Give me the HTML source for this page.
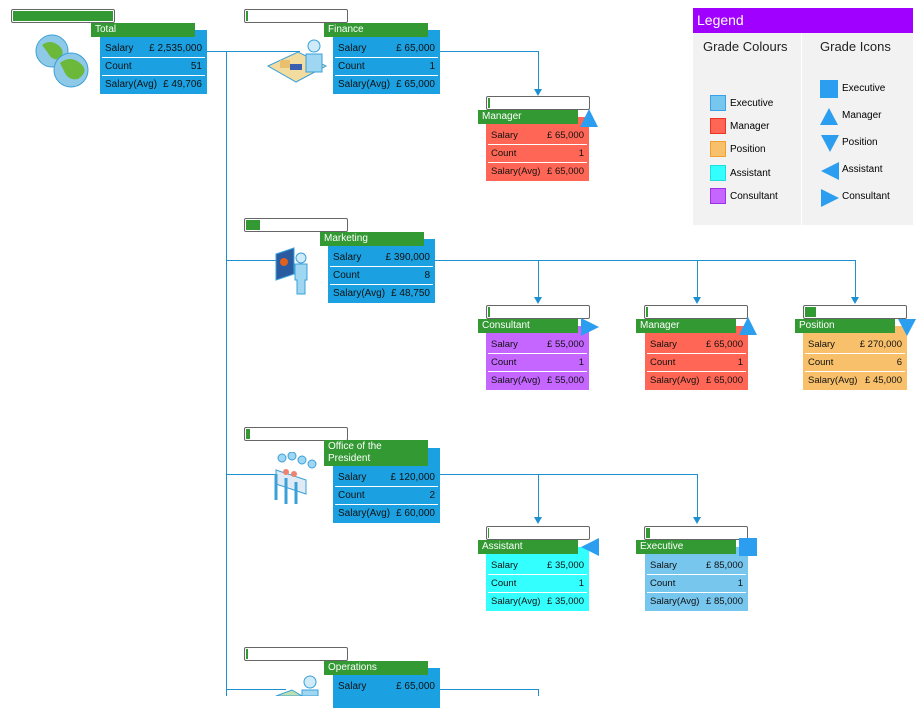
<!DOCTYPE html>
<html><head><meta charset="utf-8"><style>
body{margin:0;width:924px;height:696px;position:relative;overflow:hidden;background:#fff;font-family:"Liberation Sans",sans-serif;font-size:10px}
.a{position:absolute}
.bar{position:absolute;width:102px;height:12px;border:1px solid #666;border-radius:2px;background:#fff}
.bar i{position:absolute;left:1px;top:1px;height:10px;background:#339933}
.tt{position:absolute;z-index:2;background:#339933;color:#fff;padding:2px 4px;box-sizing:border-box;height:14px;width:104px;line-height:10px}
.box{position:absolute;height:64px;box-sizing:border-box;padding-top:10px;color:#111}
.box.c{font-size:9.5px}
.r{height:17px;line-height:17px;padding:0 3px;display:flex;justify-content:space-between;border-bottom:1px solid #fff;margin:0 2px}
.r:last-child{border-bottom:none}
.ln{position:absolute;background:#1e90d0}
.arr{position:absolute;width:0;height:0;border-left:4px solid transparent;border-right:4px solid transparent;border-top:7px solid #1e90d0}
</style></head><body>

<div class="ln" style="left:226px;top:51px;width:1px;height:645px"></div>
<div class="ln" style="left:207px;top:51px;width:93px;height:1px"></div>
<div class="ln" style="left:440px;top:51px;width:98px;height:1px"></div>
<div class="ln" style="left:538px;top:51px;width:1px;height:40px"></div><div class="arr" style="left:534px;top:89px"></div>
<div class="ln" style="left:226px;top:260px;width:50px;height:1px"></div>
<div class="ln" style="left:435px;top:260px;width:420px;height:1px"></div>
<div class="ln" style="left:538px;top:260px;width:1px;height:38px"></div><div class="arr" style="left:534px;top:297px"></div>
<div class="ln" style="left:697px;top:260px;width:1px;height:38px"></div><div class="arr" style="left:693px;top:297px"></div>
<div class="ln" style="left:855px;top:260px;width:1px;height:38px"></div><div class="arr" style="left:851px;top:297px"></div>
<div class="ln" style="left:226px;top:474px;width:50px;height:1px"></div>
<div class="ln" style="left:440px;top:474px;width:257px;height:1px"></div>
<div class="ln" style="left:538px;top:474px;width:1px;height:45px"></div><div class="arr" style="left:534px;top:517px"></div>
<div class="ln" style="left:697px;top:474px;width:1px;height:45px"></div><div class="arr" style="left:693px;top:517px"></div>
<div class="ln" style="left:226px;top:689px;width:60px;height:1px"></div>
<div class="ln" style="left:440px;top:689px;width:98px;height:1px"></div>
<div class="ln" style="left:538px;top:689px;width:1px;height:7px"></div>

<div class="bar" style="left:11px;top:9px"><i style="width:100px"></i></div>
<svg class="a" style="left:34px;top:33px" width="58" height="58"><circle cx="18" cy="18" r="16" fill="#8ec9e8" stroke="#3aa0d8"/><path d="M8 12q8-6 16 0t2 14q-8 2-12-6z" fill="#6cb83a"/><circle cx="37" cy="37" r="17" fill="#8ec9e8" stroke="#3aa0d8"/><path d="M26 30q10-8 20 0t-2 16q-10 2-14-8z" fill="#6cb83a"/></svg>
<div class="tt" style="left:91px;top:23px">Total</div>
<div class="box" style="left:100px;top:30px;width:107px;background:#1ba1e2"><div class="r"><span>Salary</span><span>£ 2,535,000</span></div><div class="r"><span>Count</span><span>51</span></div><div class="r"><span>Salary(Avg)</span><span>£ 49,706</span></div></div>

<div class="bar" style="left:244px;top:9px"><i style="width:2px"></i></div>
<svg class="a" style="left:266px;top:36px" width="62" height="54"><path d="M2 30l30-14 28 14-30 16z" fill="#f3dca0" stroke="#3aa0d8"/><circle cx="48" cy="10" r="6" fill="#cfeaf8" stroke="#3aa0d8"/><path d="M40 18h16v18h-16z" fill="#9fd6f2" stroke="#3aa0d8"/><rect x="14" y="24" width="10" height="8" fill="#e8c070"/><rect x="24" y="28" width="12" height="6" fill="#3a5fb0"/></svg>
<div class="tt" style="left:324px;top:23px">Finance</div>
<div class="box" style="left:333px;top:30px;width:107px;background:#1ba1e2"><div class="r"><span>Salary</span><span>£ 65,000</span></div><div class="r"><span>Count</span><span>1</span></div><div class="r"><span>Salary(Avg)</span><span>£ 65,000</span></div></div>

<div class="bar" style="left:486px;top:96px"><i style="width:2px"></i></div>
<div class="box c" style="left:486px;top:117px;width:103px;background:#ff6655"><div class="r"><span>Salary</span><span>£ 65,000</span></div><div class="r"><span>Count</span><span>1</span></div><div class="r"><span>Salary(Avg)</span><span>£ 65,000</span></div></div>
<div class="tt" style="left:478px;top:110px;width:100px">Manager</div>
<svg class="a" style="left:580px;top:108px" width="20" height="20"><path d="M9 1l9 18h-18z" fill="#2c9ef0"/></svg>

<div class="bar" style="left:244px;top:218px"><i style="width:14px"></i></div>
<svg class="a" style="left:274px;top:246px" width="34" height="50"><path d="M2 8l18-6v26l-18 6z" fill="#2a5aa0" stroke="#3aa0d8"/><circle cx="10" cy="16" r="4" fill="#e06020"/><circle cx="27" cy="12" r="5" fill="#cfeaf8" stroke="#3aa0d8"/><path d="M21 18h12v16h-2v14h-8v-14h-2z" fill="#9fd6f2" stroke="#3aa0d8"/></svg>
<div class="tt" style="left:320px;top:232px">Marketing</div>
<div class="box" style="left:328px;top:239px;width:107px;background:#1ba1e2"><div class="r"><span>Salary</span><span>£ 390,000</span></div><div class="r"><span>Count</span><span>8</span></div><div class="r"><span>Salary(Avg)</span><span>£ 48,750</span></div></div>

<div class="bar" style="left:486px;top:305px"><i style="width:2px"></i></div>
<div class="box c" style="left:486px;top:326px;width:103px;background:#c466ff"><div class="r"><span>Salary</span><span>£ 55,000</span></div><div class="r"><span>Count</span><span>1</span></div><div class="r"><span>Salary(Avg)</span><span>£ 55,000</span></div></div>
<div class="tt" style="left:478px;top:319px;width:100px">Consultant</div>
<svg class="a" style="left:580px;top:317px" width="20" height="20"><path d="M1 1l18 9-18 9z" fill="#2c9ef0"/></svg>

<div class="bar" style="left:644px;top:305px"><i style="width:2px"></i></div>
<div class="box c" style="left:645px;top:326px;width:103px;background:#ff6655"><div class="r"><span>Salary</span><span>£ 65,000</span></div><div class="r"><span>Count</span><span>1</span></div><div class="r"><span>Salary(Avg)</span><span>£ 65,000</span></div></div>
<div class="tt" style="left:636px;top:319px;width:100px">Manager</div>
<svg class="a" style="left:739px;top:316px" width="20" height="20"><path d="M9 1l9 18h-18z" fill="#2c9ef0"/></svg>

<div class="bar" style="left:803px;top:305px"><i style="width:11px"></i></div>
<div class="box c" style="left:803px;top:326px;width:104px;background:#f8c06a"><div class="r"><span>Salary</span><span>£ 270,000</span></div><div class="r"><span>Count</span><span>6</span></div><div class="r"><span>Salary(Avg)</span><span>£ 45,000</span></div></div>
<div class="tt" style="left:795px;top:319px;width:100px">Position</div>
<svg class="a" style="left:897px;top:318px" width="20" height="20"><path d="M1 1h18l-9 17z" fill="#2c9ef0"/></svg>

<div class="bar" style="left:244px;top:427px"><i style="width:4px"></i></div>
<svg class="a" style="left:272px;top:452px" width="50" height="54"><path d="M4 18l30 10v14l-30-10z" fill="#dfeaf5" stroke="#3aa0d8"/><path d="M4 22v26M14 26v26M24 30v22" stroke="#3aa0d8" stroke-width="3"/><circle cx="10" cy="6" r="4" fill="#9fd6f2" stroke="#3aa0d8"/><circle cx="20" cy="4" r="4" fill="#9fd6f2" stroke="#3aa0d8"/><circle cx="30" cy="8" r="4" fill="#9fd6f2" stroke="#3aa0d8"/><circle cx="40" cy="12" r="4" fill="#9fd6f2" stroke="#3aa0d8"/><circle cx="14" cy="20" r="3" fill="#f08070"/><circle cx="22" cy="22" r="3" fill="#f08070"/></svg>
<div class="tt" style="left:324px;top:440px;height:26px;line-height:12px;padding-top:1px">Office of the<br>President</div>
<div class="box" style="left:333px;top:448px;width:107px;height:75px;padding-top:21px;background:#1ba1e2"><div class="r"><span>Salary</span><span>£ 120,000</span></div><div class="r"><span>Count</span><span>2</span></div><div class="r"><span>Salary(Avg)</span><span>£ 60,000</span></div></div>

<div class="bar" style="left:486px;top:526px"><i style="width:1px"></i></div>
<div class="box c" style="left:486px;top:547px;width:103px;background:#33ffff"><div class="r"><span>Salary</span><span>£ 35,000</span></div><div class="r"><span>Count</span><span>1</span></div><div class="r"><span>Salary(Avg)</span><span>£ 35,000</span></div></div>
<div class="tt" style="left:478px;top:540px;width:100px">Assistant</div>
<svg class="a" style="left:580px;top:537px" width="20" height="20"><path d="M19 1v18l-18-9z" fill="#2c9ef0"/></svg>

<div class="bar" style="left:644px;top:526px"><i style="width:4px"></i></div>
<div class="box c" style="left:645px;top:547px;width:103px;background:#77c6ee"><div class="r"><span>Salary</span><span>£ 85,000</span></div><div class="r"><span>Count</span><span>1</span></div><div class="r"><span>Salary(Avg)</span><span>£ 85,000</span></div></div>
<div class="tt" style="left:636px;top:540px;width:100px">Executive</div>
<div class="a" style="left:739px;top:538px;width:18px;height:18px;background:#2c9ef0"></div>

<div class="bar" style="left:244px;top:647px"><i style="width:2px"></i></div>
<svg class="a" style="left:272px;top:672px" width="50" height="24"><circle cx="38" cy="10" r="6" fill="#cfeaf8" stroke="#3aa0d8"/><path d="M30 18h16v6h-16z" fill="#9fd6f2" stroke="#3aa0d8"/><path d="M4 24l16-6 10 6z" fill="#bde0b0" stroke="#3aa0d8"/></svg>
<div class="tt" style="left:324px;top:661px">Operations</div>
<div class="box" style="left:333px;top:668px;width:107px;height:40px;background:#1ba1e2"><div class="r"><span>Salary</span><span>£ 65,000</span></div></div>

<div class="a" style="left:693px;top:8px;width:220px;height:217px;background:#f2f2f2"></div>
<div class="a" style="left:693px;top:8px;width:220px;height:25px;background:#a000ff;color:#fff;font-size:14px;line-height:25px;padding-left:4px;box-sizing:border-box">Legend</div>
<div class="a" style="left:801px;top:33px;width:1px;height:192px;background:#fff"></div>
<div class="a" style="left:703px;top:39px;font-size:13px;color:#222">Grade Colours</div>
<div class="a" style="left:820px;top:39px;font-size:13px;color:#222">Grade Icons</div>
<div class="a" style="left:710px;top:95px;width:16px;height:16px;background:#77c6ee;border:1px solid #3aa0e8;box-sizing:border-box"></div><div class="a" style="left:730px;top:98px">Executive</div>
<div class="a" style="left:710px;top:118px;width:16px;height:16px;background:#ff6655;border:1px solid #ee3322;box-sizing:border-box"></div><div class="a" style="left:730px;top:121px">Manager</div>
<div class="a" style="left:710px;top:141px;width:16px;height:16px;background:#f8c06a;border:1px solid #f0a030;box-sizing:border-box"></div><div class="a" style="left:730px;top:144px">Position</div>
<div class="a" style="left:710px;top:165px;width:16px;height:16px;background:#33ffff;border:1px solid #22dddd;box-sizing:border-box"></div><div class="a" style="left:730px;top:168px">Assistant</div>
<div class="a" style="left:710px;top:188px;width:16px;height:16px;background:#c466ff;border:1px solid #a030f0;box-sizing:border-box"></div><div class="a" style="left:730px;top:191px">Consultant</div>
<div class="a" style="left:820px;top:80px;width:18px;height:18px;background:#2c9ef0"></div><div class="a" style="left:842px;top:83px">Executive</div>
<svg class="a" style="left:820px;top:107px" width="20" height="20"><path d="M9 1l9 17h-18z" fill="#2c9ef0"/></svg><div class="a" style="left:842px;top:110px">Manager</div>
<svg class="a" style="left:820px;top:134px" width="20" height="20"><path d="M1 1h18l-9 17z" fill="#2c9ef0"/></svg><div class="a" style="left:842px;top:137px">Position</div>
<svg class="a" style="left:820px;top:161px" width="20" height="20"><path d="M19 1v18l-18-9z" fill="#2c9ef0"/></svg><div class="a" style="left:842px;top:164px">Assistant</div>
<svg class="a" style="left:820px;top:188px" width="20" height="20"><path d="M1 1l18 9-18 9z" fill="#2c9ef0"/></svg><div class="a" style="left:842px;top:191px">Consultant</div>
</body></html>
